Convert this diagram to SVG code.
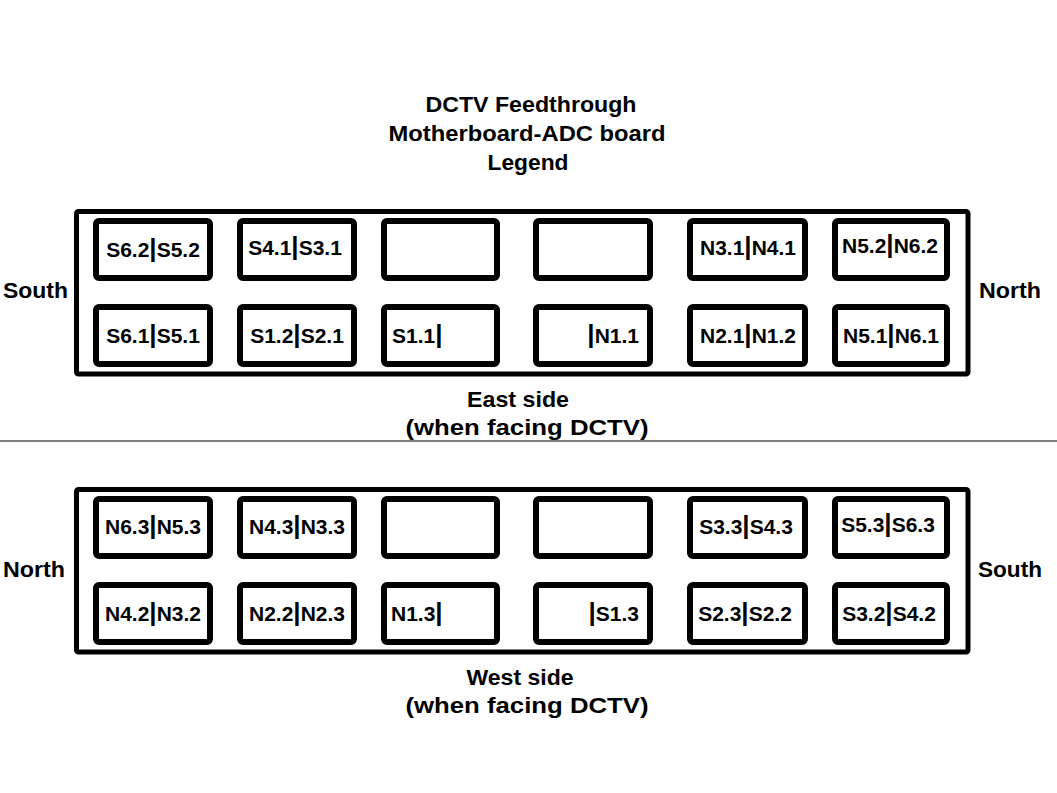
<svg xmlns="http://www.w3.org/2000/svg" width="1057" height="793" viewBox="0 0 1057 793">
<style>
text{font-family:"Liberation Sans",Arial,sans-serif;font-weight:bold;font-size:21px;fill:#000}
.big{font-size:22px}
.m{text-anchor:middle}
.e{text-anchor:end}
.bar{font-size:26px}
.outer{fill:none;stroke:#000;stroke-width:5}
.slot{fill:#fff;stroke:#000;stroke-width:6}
</style>
<rect width="1057" height="793" fill="#fff"/>
<g id="title">
<text class="m big" x="531" y="112" textLength="211" lengthAdjust="spacingAndGlyphs">DCTV Feedthrough</text>
<text class="m big" x="527" y="141" textLength="277" lengthAdjust="spacingAndGlyphs">Motherboard-ADC board</text>
<text class="m big" x="528" y="170" textLength="81" lengthAdjust="spacingAndGlyphs">Legend</text>
</g>
<g id="east">
<rect class="outer" x="76.5" y="211.5" width="891.5" height="162.5" rx="2"/>
<text class="big" x="3" y="298" textLength="65" lengthAdjust="spacingAndGlyphs">South</text>
<text class="big" x="979" y="298" textLength="62" lengthAdjust="spacingAndGlyphs">North</text>
<g id="e-r1c1"><rect class="slot" x="96" y="221" width="114" height="57" rx="3"/><text class="m" x="153" y="257">S6.2<tspan class="bar">|</tspan>S5.2</text></g>
<g id="e-r1c2"><rect class="slot" x="240" y="221" width="114" height="57" rx="3"/><text class="m" x="295" y="255">S4.1<tspan class="bar">|</tspan>S3.1</text></g>
<g id="e-r1c3"><rect class="slot" x="384" y="221" width="113" height="57" rx="3"/></g>
<g id="e-r1c4"><rect class="slot" x="536" y="221" width="114" height="57" rx="3"/></g>
<g id="e-r1c5"><rect class="slot" x="690" y="221" width="115" height="57" rx="3"/><text class="m" x="748" y="255">N3.1<tspan class="bar">|</tspan>N4.1</text></g>
<g id="e-r1c6"><rect class="slot" x="835" y="221" width="112" height="57" rx="3"/><text class="m" x="890" y="253">N5.2<tspan class="bar">|</tspan>N6.2</text></g>
<g id="e-r2c1"><rect class="slot" x="96" y="307" width="114" height="57" rx="3"/><text class="m" x="153" y="343">S6.1<tspan class="bar">|</tspan>S5.1</text></g>
<g id="e-r2c2"><rect class="slot" x="240" y="307" width="114" height="57" rx="3"/><text class="m" x="297" y="343">S1.2<tspan class="bar">|</tspan>S2.1</text></g>
<g id="e-r2c3"><rect class="slot" x="384" y="307" width="113" height="57" rx="3"/><text x="392" y="343">S1.1<tspan class="bar">|</tspan></text></g>
<g id="e-r2c4"><rect class="slot" x="536" y="307" width="114" height="57" rx="3"/><text class="e" x="639" y="343"><tspan class="bar">|</tspan>N1.1</text></g>
<g id="e-r2c5"><rect class="slot" x="690" y="307" width="115" height="57" rx="3"/><text class="m" x="748" y="343">N2.1<tspan class="bar">|</tspan>N1.2</text></g>
<g id="e-r2c6"><rect class="slot" x="835" y="307" width="112" height="57" rx="3"/><text class="m" x="891" y="343">N5.1<tspan class="bar">|</tspan>N6.1</text></g>
<text class="m big" x="518" y="407" textLength="102" lengthAdjust="spacingAndGlyphs">East side</text>
<text class="m big" x="527" y="435" textLength="243" lengthAdjust="spacingAndGlyphs">(when facing DCTV)</text>
</g>
<g id="divider"><line x1="0" y1="441" x2="1057" y2="441" stroke="#000" stroke-width="1"/></g>
<g id="west">
<rect class="outer" x="76.5" y="489.5" width="891.5" height="162.5" rx="2"/>
<text class="big" x="3" y="577" textLength="62" lengthAdjust="spacingAndGlyphs">North</text>
<text class="big" x="978" y="577" textLength="64" lengthAdjust="spacingAndGlyphs">South</text>
<g id="w-r1c1"><rect class="slot" x="96" y="499" width="114" height="57" rx="3"/><text class="m" x="153" y="534">N6.3<tspan class="bar">|</tspan>N5.3</text></g>
<g id="w-r1c2"><rect class="slot" x="240" y="499" width="114" height="57" rx="3"/><text class="m" x="297" y="534">N4.3<tspan class="bar">|</tspan>N3.3</text></g>
<g id="w-r1c3"><rect class="slot" x="384" y="499" width="113" height="57" rx="3"/></g>
<g id="w-r1c4"><rect class="slot" x="536" y="499" width="114" height="57" rx="3"/></g>
<g id="w-r1c5"><rect class="slot" x="690" y="499" width="115" height="57" rx="3"/><text class="m" x="746" y="534">S3.3<tspan class="bar">|</tspan>S4.3</text></g>
<g id="w-r1c6"><rect class="slot" x="835" y="499" width="112" height="57" rx="3"/><text class="m" x="888" y="532">S5.3<tspan class="bar">|</tspan>S6.3</text></g>
<g id="w-r2c1"><rect class="slot" x="96" y="585" width="114" height="57" rx="3"/><text class="m" x="153" y="621">N4.2<tspan class="bar">|</tspan>N3.2</text></g>
<g id="w-r2c2"><rect class="slot" x="240" y="585" width="114" height="57" rx="3"/><text class="m" x="297" y="621">N2.2<tspan class="bar">|</tspan>N2.3</text></g>
<g id="w-r2c3"><rect class="slot" x="384" y="585" width="113" height="57" rx="3"/><text x="391" y="621">N1.3<tspan class="bar">|</tspan></text></g>
<g id="w-r2c4"><rect class="slot" x="536" y="585" width="114" height="57" rx="3"/><text class="e" x="639" y="621"><tspan class="bar">|</tspan>S1.3</text></g>
<g id="w-r2c5"><rect class="slot" x="690" y="585" width="115" height="57" rx="3"/><text class="m" x="745" y="621">S2.3<tspan class="bar">|</tspan>S2.2</text></g>
<g id="w-r2c6"><rect class="slot" x="835" y="585" width="112" height="57" rx="3"/><text class="m" x="889" y="621">S3.2<tspan class="bar">|</tspan>S4.2</text></g>
<text class="m big" x="520" y="685" textLength="107" lengthAdjust="spacingAndGlyphs">West side</text>
<text class="m big" x="527" y="713" textLength="243" lengthAdjust="spacingAndGlyphs">(when facing DCTV)</text>
</g>
</svg>
